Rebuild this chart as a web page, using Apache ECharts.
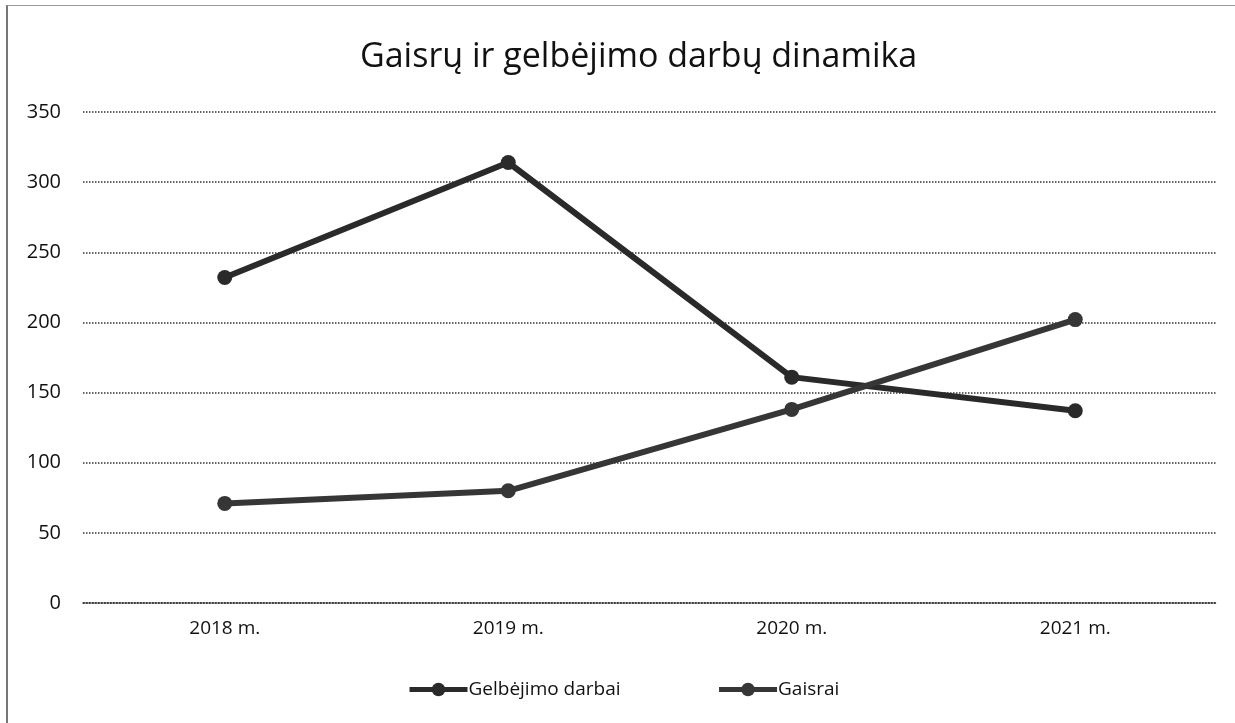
<!DOCTYPE html>
<html>
<head>
<meta charset="utf-8">
<script src="https://cdn.jsdelivr.net/npm/echarts@6/dist/echarts.min.js"></script>
<style>
html,body{margin:0;padding:0;background:#fff;}
#frame{position:absolute;left:6px;top:5px;width:1240px;height:730px;border-left:2px solid #777;border-top:1px solid #999;box-sizing:border-box;}
#chart{position:absolute;left:0;top:0;width:1235px;height:723px;}
</style>
</head>
<body>
<div id="frame"></div>
<div id="chart"></div>
<script>
const titleText = 'Gaisrų ir gelbėjimo darbų dinamika';
const categories = ['2018 m.', '2019 m.', '2020 m.', '2021 m.'];
const seriesNames = ['Gelbėjimo darbai', 'Gaisrai'];
const gelbejimoDarbai = [232, 314, 161, 137];
const gaisrai = [71, 80, 138, 202];

const font = 'Open Sans, Liberation Sans, sans-serif';
const chart = echarts.init(document.getElementById('chart'), null, {renderer: 'canvas'});
chart.setOption({
  backgroundColor: 'transparent',
  animation: false,
  title: {
    text: titleText,
    left: 355,
    top: 35,
    textStyle: {fontFamily: font, fontSize: 34, fontWeight: 'normal', color: '#111'}
  },
  legend: {
    data: seriesNames,
    top: 675,
    left: 402,
    itemWidth: 58,
    itemHeight: 17,
    itemGap: 96,
    lineStyle: {width: 5},
    textStyle: {fontFamily: font, fontSize: 19, color: '#111', padding: [0,0,0,-4]}
  },
  grid: {left: 83, right: 18, top: 112, bottom: 120, containLabel: false},
  xAxis: {
    type: 'category',
    data: categories,
    boundaryGap: true,
    axisLine: {show: true, lineStyle: {color: '#333', type: 'dotted', width: 1.5}},
    axisTick: {show: false},
    axisLabel: {fontFamily: font, fontSize: 19, color: '#111', margin: 16}
  },
  yAxis: {
    type: 'value',
    min: 0, max: 350, interval: 50,
    axisLine: {show: false},
    axisTick: {show: false},
    axisLabel: {fontFamily: font, fontSize: 20, color: '#111', margin: 22},
    splitLine: {lineStyle: {color: '#333', type: 'dotted', width: 1.5}}
  },
  series: [
    {
      name: seriesNames[0], type: 'line', data: gelbejimoDarbai,
      symbol: 'circle', symbolSize: 15,
      lineStyle: {color: '#2a2a2a', width: 6},
      itemStyle: {color: '#2a2a2a'}
    },
    {
      name: seriesNames[1], type: 'line', data: gaisrai,
      symbol: 'circle', symbolSize: 15,
      lineStyle: {color: '#363636', width: 6},
      itemStyle: {color: '#363636'}
    }
  ]
});
</script>
</body>
</html>
